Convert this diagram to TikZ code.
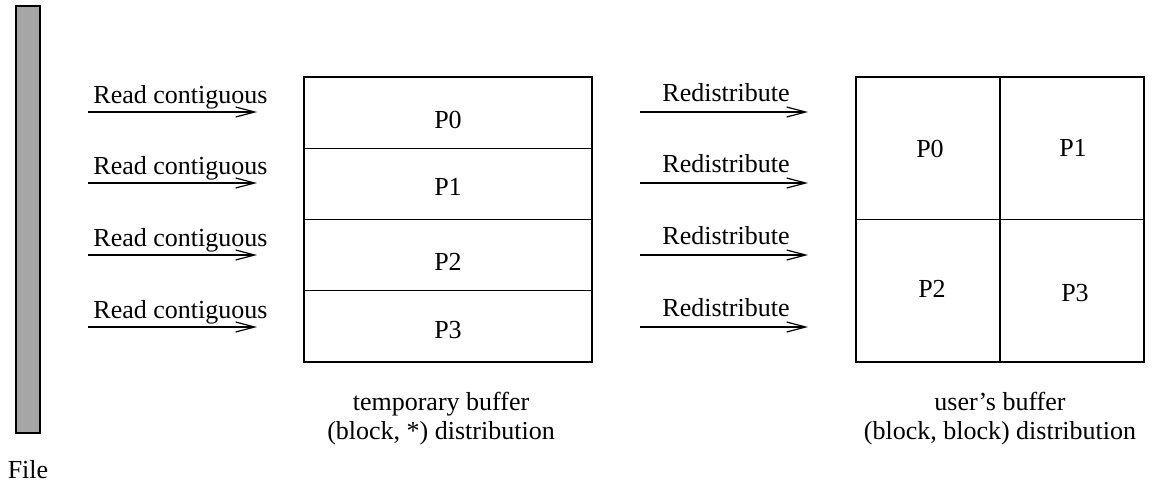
\documentclass[tikz,border=0pt]{standalone}
\usepackage{fontspec}
\setmainfont{Liberation Serif}
\usetikzlibrary{arrows.meta, positioning}
\definecolor{filegray}{gray}{0.65}

\begin{document}
\begin{tikzpicture}[
  x=0.5pt, y=-0.5pt,
  every node/.style={font=\fontsize{13}{14.5}\selectfont, inner sep=0pt, outer sep=0pt},
  filebar/.style={draw, line width=0.6pt, fill=filegray, minimum width=12pt, minimum height=213.5pt},
  slab/.style={draw, line width=0.6pt, minimum width=144pt, minimum height=35.625pt},
  cell/.style={draw, line width=0.6pt, minimum width=72pt, minimum height=71.25pt},
  flow/.style={line width=0.6pt, -{Straight Barb[length=9.5pt, width=5pt]}},
  caption/.style={align=center}
]
\useasboundingbox (0,0) rectangle (1163,484);

% the file
\node[filebar] (file) at (28,219.5) {};
\node[below=13.5pt of file] (filename) {File};

% temporary buffer, (block, *)
\node[slab, label={[yshift=-3.75pt]center:P0}] (tb0) at (448,112.625) {};
\node[slab, label={[yshift=-1.5pt]center:P1}] (tb1) [below=0pt of tb0] {};
\node[slab, label={[yshift=-3.25pt]center:P2}] (tb2) [below=0pt of tb1] {};
\node[slab, label={[yshift=-2pt]center:P3}] (tb3) [below=0pt of tb2] {};
\node[caption, below=15pt of tb3, xshift=-3.5pt] (tbcap) {temporary buffer\\(block, *) distribution};

% user's buffer, (block, block)
\node[cell, label={[xshift=1pt, yshift=-0.5pt]center:P0}] (ub0) at (928,148.25) {};
\node[cell, label={[xshift=0.5pt]center:P1}] (ub1) [right=0pt of ub0] {};
\node[cell, label={[xshift=2pt, yshift=0.75pt]center:P2}] (ub2) [below=0pt of ub0] {};
\node[cell, label={[xshift=1.5pt, yshift=-1.25pt]center:P3}] (ub3) [right=0pt of ub2] {};
\node[caption, below=15pt of ub2.south east] (ubcap) {user's buffer\\(block, block) distribution};

% reads and redistribution
\foreach \y in {112,183,255,327} {
  \coordinate (rdfrom\y) at (88,\y);
  \coordinate (rdto\y) at (257,\y);
  \draw[flow] (rdfrom\y) -- node[anchor=base, xshift=4pt, yshift=4.25pt] {Read contiguous} (rdto\y);
  \coordinate (rsfrom\y) at (640,\y);
  \coordinate (rsto\y) at (808,\y);
  \draw[flow] (rsfrom\y) -- node[anchor=base, xshift=1pt, yshift=5.25pt] {Redistribute} (rsto\y);
}
\end{tikzpicture}
\end{document}
